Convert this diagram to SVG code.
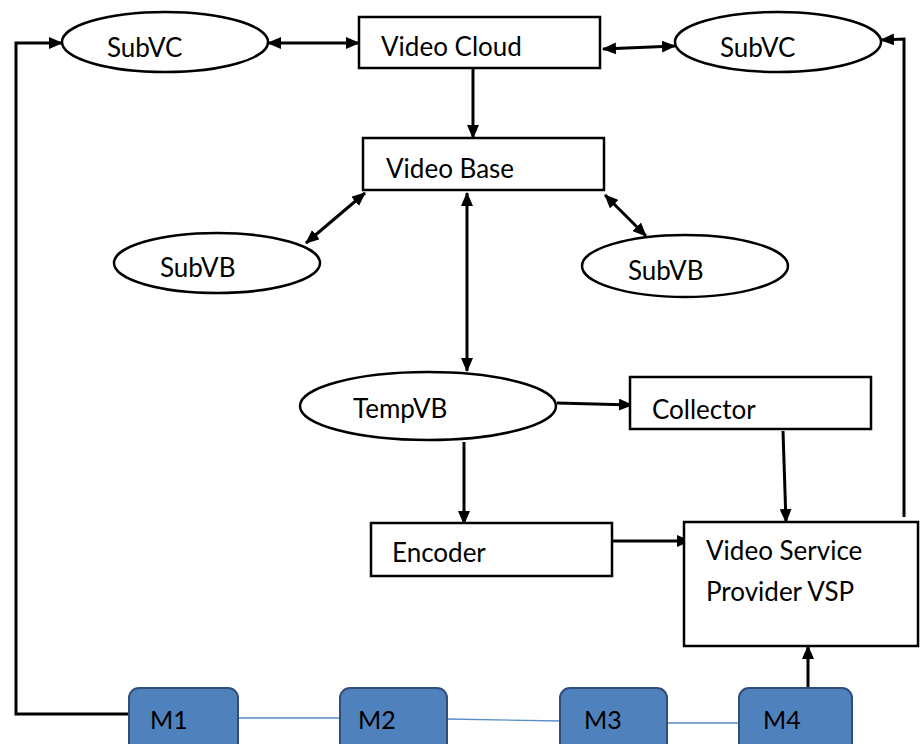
<svg xmlns="http://www.w3.org/2000/svg" width="920" height="744" viewBox="0 0 920 744">
  <defs>
    <marker id="arrow" markerUnits="userSpaceOnUse" markerWidth="14" markerHeight="12" viewBox="0 0 14 12" refX="13" refY="6" orient="auto-start-reverse">
      <path d="M0,0 L14,6 L0,12 z" fill="#000"/>
    </marker>
    <style>
      .shape { fill: #fff; stroke: #000; stroke-width: 2.5; }
      .label { font-family: Lato, "Liberation Sans", sans-serif; font-size: 26px; fill: #000; }
      .m { fill: #4F81BD; stroke: #2F4F7A; stroke-width: 2; }
      .mlabel { font-family: Lato, "Liberation Sans", sans-serif; font-size: 25px; fill: #000; }
      .conn { fill: none; stroke: #000; stroke-width: 3; }
      .link { fill: none; stroke: #5B8BC9; stroke-width: 1.3; }
    </style>
  </defs>
  <rect width="920" height="744" fill="#fff"/>

  <!-- connectors -->
  <g id="connectors">
    <line class="conn" x1="268" y1="43" x2="359" y2="43" marker-start="url(#arrow)" marker-end="url(#arrow)"/>
    <line class="conn" x1="603" y1="49" x2="675" y2="46" marker-start="url(#arrow)" marker-end="url(#arrow)"/>
    <line class="conn" x1="473" y1="68" x2="473" y2="138" marker-end="url(#arrow)"/>
    <line class="conn" x1="306" y1="243" x2="365" y2="193" marker-start="url(#arrow)" marker-end="url(#arrow)"/>
    <line class="conn" x1="605" y1="195" x2="646" y2="236" marker-start="url(#arrow)" marker-end="url(#arrow)"/>
    <line class="conn" x1="467" y1="193" x2="467" y2="371" marker-start="url(#arrow)" marker-end="url(#arrow)"/>
    <line class="conn" x1="557" y1="403" x2="632" y2="405" marker-end="url(#arrow)"/>
    <line class="conn" x1="464" y1="442" x2="464" y2="524" marker-end="url(#arrow)"/>
    <line class="conn" x1="783" y1="431" x2="786" y2="522" marker-end="url(#arrow)"/>
    <line class="conn" x1="612" y1="541" x2="690" y2="541" marker-end="url(#arrow)"/>
    <line class="conn" x1="808" y1="688" x2="808" y2="646" marker-end="url(#arrow)"/>
    <polyline class="conn" points="129,714 16,714 16,43 62,43" marker-end="url(#arrow)"/>
    <polyline class="conn" points="904,517 904,39 881,40" marker-end="url(#arrow)"/>
    <line class="link" x1="238" y1="718" x2="340" y2="718"/>
    <line class="link" x1="447" y1="719" x2="560" y2="721"/>
    <line class="link" x1="667" y1="723" x2="739" y2="723"/>
  </g>

  <g id="subvc-left">
    <ellipse class="shape" cx="165" cy="42" rx="103" ry="30"/>
    <text class="label" x="107" y="57">SubVC</text>
  </g>
  <g id="video-cloud">
    <rect class="shape" x="359" y="17" width="241" height="51"/>
    <text class="label" x="381" y="56">Video Cloud</text>
  </g>
  <g id="subvc-right">
    <ellipse class="shape" cx="778" cy="42" rx="103" ry="30"/>
    <text class="label" x="720" y="57">SubVC</text>
  </g>
  <g id="video-base">
    <rect class="shape" x="363" y="138" width="241" height="52"/>
    <text class="label" x="386" y="178">Video Base</text>
  </g>
  <g id="subvb-left">
    <ellipse class="shape" cx="217" cy="263" rx="103" ry="30"/>
    <text class="label" x="160" y="277">SubVB</text>
  </g>
  <g id="subvb-right">
    <ellipse class="shape" cx="685" cy="266" rx="103" ry="31"/>
    <text class="label" x="628" y="280">SubVB</text>
  </g>
  <g id="tempvb">
    <ellipse class="shape" cx="428" cy="406" rx="128" ry="34"/>
    <text class="label" x="353" y="418">TempVB</text>
  </g>
  <g id="collector">
    <rect class="shape" x="630" y="377" width="241" height="52"/>
    <text class="label" x="652" y="419">Collector</text>
  </g>
  <g id="encoder">
    <rect class="shape" x="371" y="523" width="241" height="53"/>
    <text class="label" x="392" y="562">Encoder</text>
  </g>
  <g id="vsp">
    <rect class="shape" x="684" y="522" width="234" height="124"/>
    <text class="label" x="706" y="560">Video Service</text>
    <text class="label" x="706" y="601">Provider VSP</text>
  </g>
  <g id="m1">
    <rect class="m" x="129" y="688" width="109" height="80" rx="10"/>
    <text class="mlabel" x="150" y="729">M1</text>
  </g>
  <g id="m2">
    <rect class="m" x="340" y="688" width="107" height="80" rx="10"/>
    <text class="mlabel" x="358" y="729">M2</text>
  </g>
  <g id="m3">
    <rect class="m" x="560" y="688" width="107" height="80" rx="10"/>
    <text class="mlabel" x="584" y="729">M3</text>
  </g>
  <g id="m4">
    <rect class="m" x="739" y="688" width="113" height="80" rx="10"/>
    <text class="mlabel" x="763" y="729">M4</text>
  </g>
</svg>
